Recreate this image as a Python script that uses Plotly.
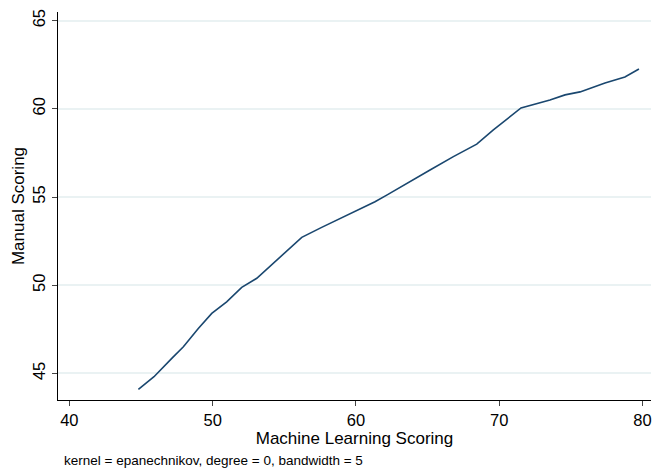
import plotly.graph_objects as go

ml_scoring = [44.82, 45.91, 47.15, 47.96, 49.00, 49.94, 50.98, 52.03, 53.08, 55.28,
              56.22, 57.61, 60.06, 61.33, 62.15, 63.54, 65.17, 66.80, 68.43, 69.59,
              70.54, 71.52, 73.54, 74.59, 75.64, 77.38, 78.77, 79.75]
manual_scoring = [44.09, 44.81, 45.85, 46.51, 47.55, 48.40, 49.06, 49.88, 50.39, 51.99,
                  52.71, 53.28, 54.26, 54.73, 55.11, 55.78, 56.53, 57.29, 58.00, 58.80,
                  59.42, 60.05, 60.50, 60.79, 60.96, 61.47, 61.81, 62.26]
x_ticks = [40, 50, 60, 70, 80]
y_ticks = [45, 50, 55, 60, 65]
note_text = "kernel = epanechnikov, degree = 0, bandwidth = 5"

FONT = "Arial, Liberation Sans, sans-serif"

fig = go.Figure()
fig.add_trace(go.Scatter(x=ml_scoring, y=manual_scoring, mode="lines",
                         line=dict(color="#1a476f", width=1.6), showlegend=False))

fig.update_layout(
    width=652, height=468,
    margin=dict(l=58, r=1, t=12, b=68),
    paper_bgcolor="white", plot_bgcolor="white",
    font=dict(family=FONT, color="black", size=16),
    xaxis=dict(range=[39.21, 80.59], tickvals=x_ticks, ticks="outside", ticklen=5,
               tickcolor="#444", showline=True, linecolor="black", linewidth=1,
               showgrid=False, zeroline=False, tickfont=dict(size=16.5),
               title=dict(text="Machine Learning Scoring", font=dict(size=17), standoff=3)),
    yaxis=dict(range=[43.49, 65.49], tickvals=y_ticks, ticks="outside", ticklen=5,
               tickcolor="#444", showline=True, linecolor="black", linewidth=1,
               showgrid=True, gridcolor="#eaf2f3", gridwidth=1.5, zeroline=False,
               tickangle=-90, tickfont=dict(size=16.5),
               title=dict(text="Manual Scoring", font=dict(size=17), standoff=1)),
    annotations=[dict(text=note_text, xref="paper", yref="paper", x=0.0067, y=-0.155,
                      xanchor="left", yanchor="middle", showarrow=False,
                      font=dict(size=13.5, family=FONT, color="black"))],
)

fig.write_html(
    "out.html",
    config={"displayModeBar": False},
    post_script="document.body.style.margin='0';document.body.style.overflow='hidden';"
                "document.documentElement.style.overflow='hidden';",
)
